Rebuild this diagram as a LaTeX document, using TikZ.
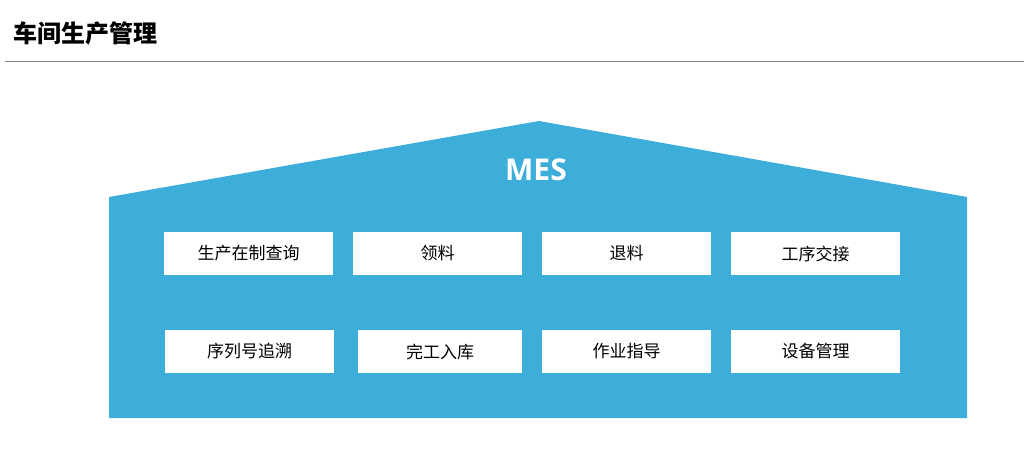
\documentclass[tikz,border=0pt]{standalone}
\usepackage{fontspec}
\setmainfont{Noto Sans CJK SC}
\newfontfamily\cjkb[BoldFont={Noto Sans CJK SC Bold}]{Noto Sans CJK SC}
\begin{document}
\begin{tikzpicture}[x=1pt,y=-1pt,
  box/.style={fill=white,minimum width=169pt,minimum height=43pt,inner sep=0pt,font=\fontsize{17}{17}\selectfont}]
\useasboundingbox (0,0) rectangle (1024,448);
\definecolor{mesblue}{HTML}{3DAEDA}
\node[anchor=west,font=\fontsize{24}{24}\selectfont\bfseries] (title) at (10,33) {车间生产管理};
\draw[gray,line width=0.8pt] (5,61) -- (1024,61);
\fill[mesblue] (109,197) -- (539,121) -- (967,197) -- (967,418) -- (109,418) -- cycle;
\node[white,font=\fontsize{30}{30}\selectfont\bfseries\sffamily] (mes) at (536,170) {\fontspec{Open Sans}\bfseries MES};
\node[box] (a1) at (248.5,253.5) {生产在制查询};
\node[box] (a2) at (437.5,253.5) {领料};
\node[box] (a3) at (626.5,253.5) {退料};
\node[box] (a4) at (815.5,253.5) {工序交接};
\node[box] (b1) at (249.5,351.5) {序列号追溯};
\node[box,minimum width=164pt] (b2) at (440,351.5) {完工入库};
\node[box] (b3) at (626.5,351.5) {作业指导};
\node[box] (b4) at (815.5,351.5) {设备管理};
\end{tikzpicture}
\end{document}
